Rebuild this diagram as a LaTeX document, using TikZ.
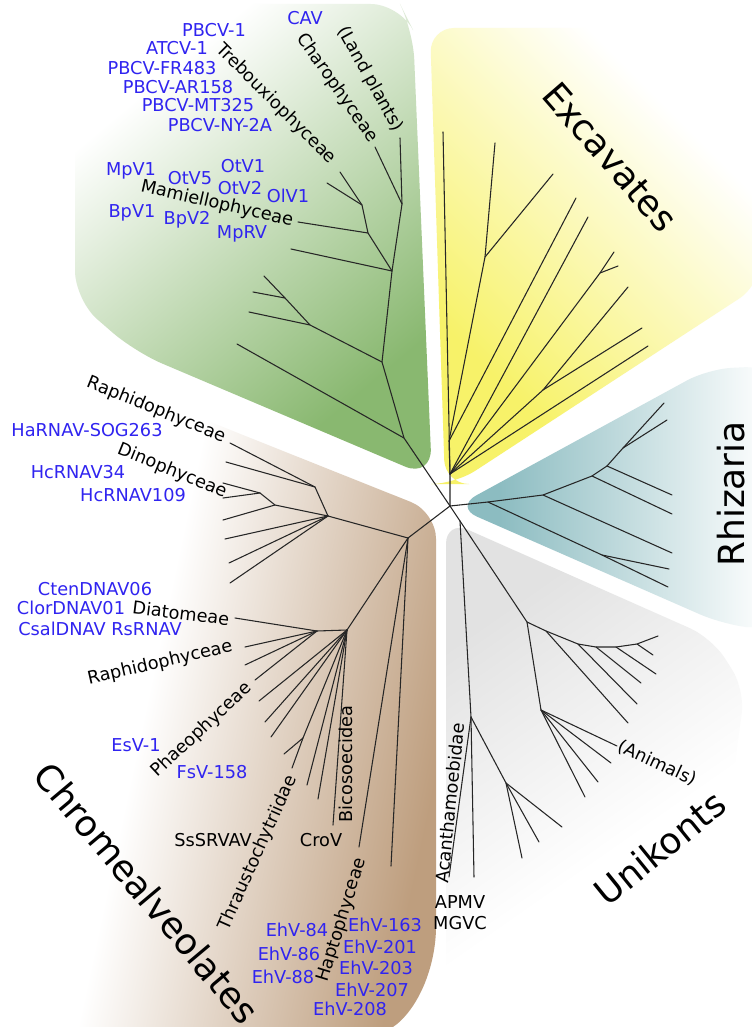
\documentclass[tikz,border=0pt]{standalone}
\usepackage{fontspec}
\setmainfont{DejaVu Sans}
\definecolor{virus}{RGB}{48,36,240}
\definecolor{cgreen}{RGB}{137,184,112}
\definecolor{cyellow}{RGB}{247,242,105}
\definecolor{cteal}{RGB}{140,188,193}
\definecolor{cgray}{RGB}{226,226,226}
\definecolor{cbrown}{RGB}{190,158,126}
\pgfdeclareverticalshading{shG}{100bp}{color(0bp)=(cgreen); color(28bp)=(cgreen); color(72bp)=(white); color(100bp)=(white)}
\pgfdeclareverticalshading{shY}{100bp}{color(0bp)=(cyellow); color(30bp)=(cyellow); color(70bp)=(white); color(100bp)=(white)}
\pgfdeclarehorizontalshading{shT}{100bp}{color(0bp)=(cteal); color(32bp)=(cteal); color(75bp)=(white); color(100bp)=(white)}
\pgfdeclareverticalshading{shU}{100bp}{color(0bp)=(white); color(40bp)=(white); color(72bp)=(cgray); color(100bp)=(cgray)}
\pgfdeclarehorizontalshading{shB}{100bp}{color(0bp)=(white); color(42bp)=(white); color(74bp)=(cbrown); color(100bp)=(cbrown)}
\begin{document}
\begin{tikzpicture}[x=0.75pt,y=-0.75pt,
  br/.style={line width=0.8pt, draw=black!85, line cap=round, line join=round},
  lab/.style={inner sep=0pt, font=\fontsize{13.3}{16}\selectfont},
  vir/.style={lab, text=virus},
  big/.style={inner sep=0pt, font=\fontsize{27}{32}\selectfont}]
\useasboundingbox (0,0) rectangle (752,1027);
\fill[white] (0,0) rectangle (752,1027);

% ---------- backgrounds ----------
\shade[shading=shG, shading angle=40, rounded corners=22pt]
  (432,478) -- (135,352) -- (75,300) -- (75,4) -- (400,4) -- (413,30) -- cycle;
\shade[shading=shY, shading angle=-45, rounded corners=18pt]
  (430,28) -- (760,28) -- (760,285) -- (455,484) -- (445,484) -- cycle;
\shade[shading=shT, rounded corners=18pt]
  (455,507) -- (708,369) -- (770,366) -- (770,630) -- (722,624) -- cycle;
\shade[shading=shU, shading angle=35, rounded corners=18pt]
  (446,520) -- (712,638) -- (745,690) -- (700,1010) -- (446,1010) -- cycle;
\shade[shading=shB, shading angle=-12]
  (436,512) -- (60,362) [rounded corners=20pt] -- (10,375) -- (10,1040) -- (380,1040)
  .. controls (423,1000) and (436,960) .. (436,900) -- cycle;

% ---------- tree coordinates ----------
\coordinate (R) at (450,506);
% green
\coordinate (G1) at (404,438); \coordinate (Gl1) at (237,344);
\coordinate (G2) at (382,362); \coordinate (G3) at (310,325); \coordinate (Gl2) at (249,312);
\coordinate (G4) at (285,298); \coordinate (Gl3) at (253,292); \coordinate (Gl4) at (264,276);
\coordinate (G5) at (392,271); \coordinate (Gl5) at (291,249);
\coordinate (G6) at (368,233); \coordinate (Gl6) at (298,222);
\coordinate (G7) at (362,205); \coordinate (Gl7) at (327,183); \coordinate (Gl8) at (340,172);
\coordinate (G8) at (402,204); \coordinate (Gl9) at (375,147); \coordinate (Gl10) at (400,138);
% excavates
\coordinate (Eb) at (450,474); \coordinate (Ea) at (449,441);
\coordinate (El1) at (443,132);
\coordinate (E1) at (485,257); \coordinate (El2) at (495,143); \coordinate (El3) at (553,174);
\coordinate (El4) at (576,198); \coordinate (El5) at (588,217);
\coordinate (E2) at (600,273); \coordinate (El6) at (614,252); \coordinate (El6b) at (618,266);
\coordinate (E3) at (543,390); \coordinate (El7) at (628,287); \coordinate (El8) at (642,328);
\coordinate (El9) at (648,346);
% rhizaria
\coordinate (R0) at (488,502); \coordinate (R5) at (602,555);
\coordinate (Rl1) at (668,587); \coordinate (Rl2) at (669,569);
\coordinate (R1) at (543,495); \coordinate (Rl3) at (672,553);
\coordinate (R2) at (592,476); \coordinate (Rl4) at (672,514);
\coordinate (R3) at (607,466); \coordinate (Rl5) at (672,495);
\coordinate (R4) at (623,448); \coordinate (Rl6) at (664,403); \coordinate (Rl7) at (667,420);
% unikonts
\coordinate (U0) at (460,521); \coordinate (U1) at (527,622);
\coordinate (A1) at (471,717); \coordinate (Al1) at (474,877); \coordinate (Al2) at (449,877);
\coordinate (A2) at (506,783); \coordinate (Al3) at (522,858); \coordinate (Al4) at (539,842);
\coordinate (Al5) at (562,827);
\coordinate (U2) at (546,631); \coordinate (U3) at (541,710); \coordinate (U4) at (578,644);
\coordinate (U5) at (596,647); \coordinate (U6) at (616,647); \coordinate (U7) at (637,644);
\coordinate (Ul1) at (628,723); \coordinate (Ul2) at (637,704); \coordinate (Ul3) at (641,683);
\coordinate (Ul4) at (656,674); \coordinate (Ul5) at (658,636); \coordinate (Ul6) at (653,655);
\coordinate (Ua1) at (617,746); \coordinate (Ua2) at (611,763); \coordinate (Ua3) at (598,782);
\coordinate (Ua4) at (585,797);
% chromalveolates
\coordinate (C1) at (408,538); \coordinate (C2) at (328,516); \coordinate (C5) at (315,487);
\coordinate (Cl1) at (230,443); \coordinate (Cl2) at (226,462);
\coordinate (C6) at (275,505); \coordinate (C7) at (260,493);
\coordinate (Cl3) at (223,483); \coordinate (Cl4) at (223,498); \coordinate (Cl5) at (223,520);
\coordinate (Cl6) at (225,539); \coordinate (Cl7) at (229,563); \coordinate (Cl8) at (230,583);
\coordinate (C3) at (347,630); \coordinate (C4) at (317,631);
\coordinate (Cl9) at (235,618); \coordinate (Cl10) at (245,647); \coordinate (Cl11) at (245,665);
\coordinate (Cl12) at (255,680);
\coordinate (Cd1) at (259,701); \coordinate (Cd2) at (265,722); \coordinate (Cd3) at (271,737);
\coordinate (T) at (303,738); \coordinate (Tl1) at (284,754); \coordinate (Tl2) at (292,768);
\coordinate (Cd4) at (307,785); \coordinate (Cd5) at (318,799); \coordinate (Cd6) at (333,825);
\coordinate (Ch1) at (359,847); \coordinate (Ch2) at (391,866);

% ---------- branches ----------
% green
\draw[br] (R) -- (G1) -- (G2) -- (G5) -- (G8) -- (Gl10);
\draw[br] (G1) -- (Gl1);
\draw[br] (G2) -- (G3) -- (Gl2);
\draw[br] (G3) -- (G4) -- (Gl3);
\draw[br] (G4) -- (Gl4);
\draw[br] (G5) -- (Gl5);
\draw[br] (G5) -- (G6) -- (Gl6);
\draw[br] (G6) -- (G7) -- (Gl7);
\draw[br] (G7) -- (Gl8);
\draw[br] (G8) -- (Gl9);
% excavates
\draw[br] (R) -- (Eb) -- (El1);
\draw[br] (Eb) -- (Ea) -- (E1) -- (El2);
\draw[br] (E1) -- (El3);
\draw[br] (Ea) -- (El4);
\draw[br] (Eb) -- (El5);
\draw[br] (Eb) -- (E2) -- (El6);
\draw[br] (E2) -- (El6b);
\draw[br] (Eb) -- (E3) -- (El7);
\draw[br] (E3) -- (El8);
\draw[br] (Eb) -- (El9);
% rhizaria
\draw[br] (R) -- (R0) -- (R1) -- (R2) -- (R3) -- (R4) -- (Rl6);
\draw[br] (R4) -- (Rl7);
\draw[br] (R3) -- (Rl5);
\draw[br] (R2) -- (Rl4);
\draw[br] (R1) -- (Rl3);
\draw[br] (R0) -- (R5) -- (Rl1);
\draw[br] (R5) -- (Rl2);
% unikonts
\draw[br] (R) -- (U0) -- (U1);
\draw[br] (U0) -- (A1) -- (Al1);
\draw[br] (A1) -- (Al2);
\draw[br] (A1) -- (A2) -- (Al3);
\draw[br] (A2) -- (Al4);
\draw[br] (A2) -- (Al5);
\draw[br] (U1) -- (U2) -- (U4) -- (U5) -- (U6) -- (U7) -- (Ul5);
\draw[br] (U7) -- (Ul6);
\draw[br] (U6) -- (Ul4);
\draw[br] (U5) -- (Ul3);
\draw[br] (U4) -- (Ul2);
\draw[br] (U2) -- (Ul1);
\draw[br] (U1) -- (U3) -- (Ua1);
\draw[br] (U3) -- (Ua2);
\draw[br] (U3) -- (Ua3);
\draw[br] (U3) -- (Ua4);
% chromalveolates
\draw[br] (R) -- (C1) -- (C2) -- (C5) -- (Cl1);
\draw[br] (C5) -- (Cl2);
\draw[br] (C2) -- (C6) -- (C7) -- (Cl3);
\draw[br] (C7) -- (Cl4);
\draw[br] (C6) -- (Cl5);
\draw[br] (C2) -- (Cl6);
\draw[br] (C2) -- (Cl7);
\draw[br] (C2) -- (Cl8);
\draw[br] (C1) -- (C3) -- (C4) -- (Cl9);
\draw[br] (C4) -- (Cl10);
\draw[br] (C4) -- (Cl11);
\draw[br] (C4) -- (Cl12);
\draw[br] (C3) -- (Cd1);
\draw[br] (C3) -- (Cd2);
\draw[br] (C3) -- (Cd3);
\draw[br] (C3) -- (T) -- (Tl1);
\draw[br] (T) -- (Tl2);
\draw[br] (C3) -- (Cd4);
\draw[br] (C3) -- (Cd5);
\draw[br] (C3) -- (Cd6);
\draw[br] (C1) -- (Ch1);
\draw[br] (C1) -- (Ch2);

% ---------- labels ----------
\node[vir] (cav) at (305,18) {CAV};
\node[lab, rotate=-61] (land) at (370,79) {(Land plants)};
\node[lab, rotate=-55] (charo) at (337,88) {Charophyceae};
\node[lab, rotate=-45] (treb) at (276,104) {Trebouxiophyceae};
\node[vir] (pbcv1) at (214,30) {PBCV-1};
\node[vir] (atcv) at (177,48) {ATCV-1};
\node[vir] (fr) at (162,68) {PBCV-FR483};
\node[vir] (ar) at (178,87) {PBCV-AR158};
\node[vir] (mt) at (198,105) {PBCV-MT325};
\node[vir] (ny) at (220,125) {PBCV-NY-2A};
\node[vir] (mpv) at (131,171) {MpV1};
\node[vir] (otv5) at (190,178) {OtV5};
\node[vir] (otv1) at (243,166) {OtV1};
\node[vir] (otv2) at (240,188) {OtV2};
\node[vir] (olv1) at (288,196) {OlV1};
\node[lab, rotate=-13] (mam) at (217,204) {Mamiellophyceae};
\node[vir] (bpv1) at (132,213) {BpV1};
\node[vir] (bpv2) at (187,220) {BpV2};
\node[vir] (mprv) at (242,234) {MpRV};

\node[lab, rotate=-22] (raph1) at (156,410) {Raphidophyceae};
\node[vir] (harnav) at (87,430) {HaRNAV-SOG263};
\node[lab, rotate=-22] (dino) at (172,471) {Dinophyceae};
\node[vir] (hc34) at (78,472) {HcRNAV34};
\node[vir] (hc109) at (133,495) {HcRNAV109};
\node[vir] (cten) at (95,589) {CtenDNAV06};
\node[vir] (clor) at (71,608) {ClorDNAV01};
\node[lab, rotate=-7] (diat) at (181,613) {Diatomeae};
\node[vir] (csal) at (100,629) {CsalDNAV RsRNAV};
\node[lab, rotate=13] (raph2) at (160,663) {Raphidophyceae};
\node[lab, rotate=43] (phaeo) at (202,730) {Phaeophyceae};
\node[vir] (esv) at (136,745) {EsV-1};
\node[vir] (fsv) at (212,772) {FsV-158};
\node[lab] (ssr) at (213,840) {SsSRVAV};
\node[lab, rotate=66] (thr) at (258,853) {Thraustochytriidae};
\node[lab] (crov) at (321,840) {CroV};
\node[lab, rotate=90] (bico) at (346,764) {Bicosoecidea};
\node[lab, rotate=73] (hapto) at (342,920) {Haptophyceae};
\node[vir] (e84) at (297,930) {EhV-84};
\node[vir] (e86) at (289,954) {EhV-86};
\node[vir] (e88) at (283,977) {EhV-88};
\node[vir] (e163) at (385,925) {EhV-163};
\node[vir] (e201) at (380,947) {EhV-201};
\node[vir] (e203) at (376,968) {EhV-203};
\node[vir] (e207) at (372,990) {EhV-207};
\node[vir] (e208) at (350,1009) {EhV-208};

\node[lab] (apmv) at (460,902) {APMV};
\node[lab] (mgvc) at (460,923) {MGVC};
\node[lab, rotate=84] (acan) at (450,803) {Acanthamoebidae};
\node[lab, rotate=-25] (anim) at (657,763) {(Animals)};

\node[big, rotate=-49] (exc) at (610,157) {Excavates};
\node[big, rotate=90] (rhiz) at (731,494) {Rhizaria};
\node[big, rotate=39] (uni) at (660,848) {Unikonts};
\node[big, rotate=-50] (chrom) at (147,893) {Chromealveolates};
\end{tikzpicture}
\end{document}
